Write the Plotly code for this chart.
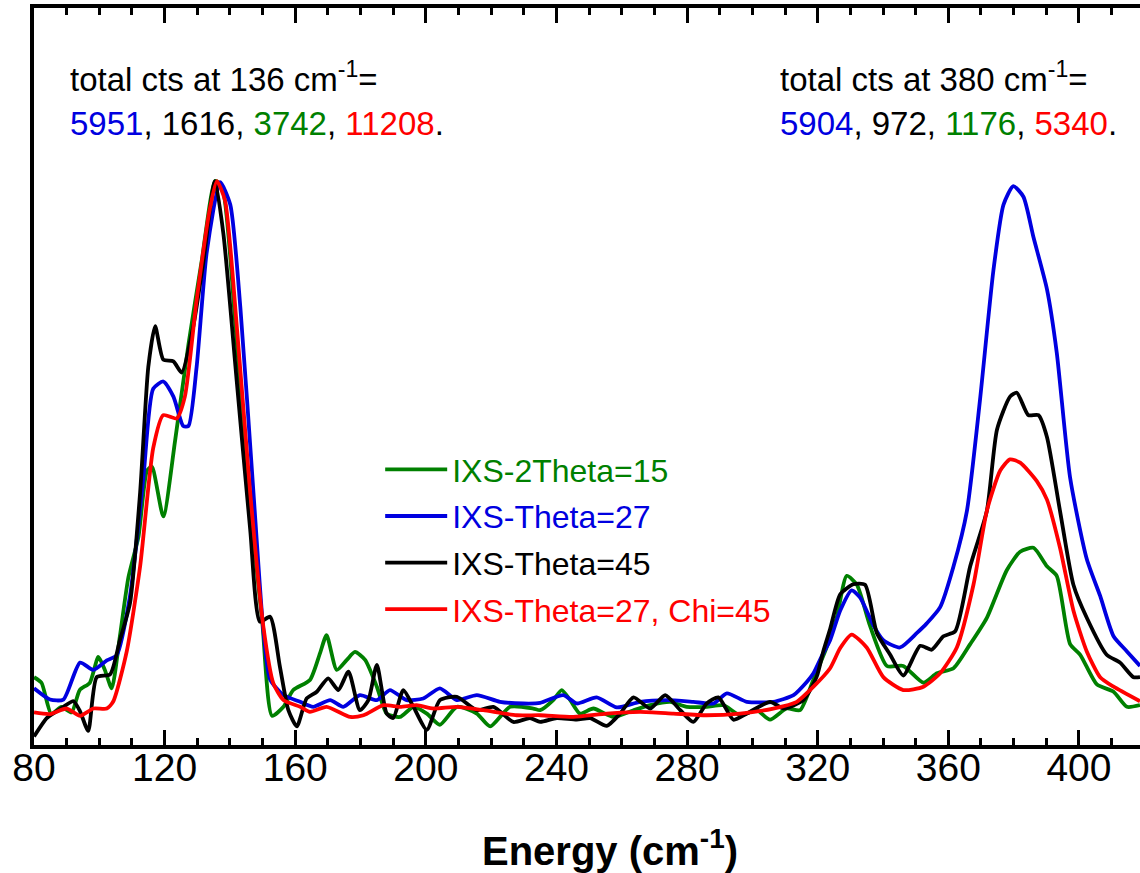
import plotly.graph_objects as go

# ---- data (intensities normalised to the 136 cm-1 peak) ----
names = ["IXS-2Theta=15", "IXS-Theta=27", "IXS-Theta=45", "IXS-Theta=27, Chi=45"]
colors = ["#008000", "#0000e0", "#000000", "#ff0000"]

energy_green = [80, 82.3, 85.3, 88.4, 91.5, 94.0, 97.1, 99.7, 101.7, 103.8, 106.3, 108.9, 112.0, 114.6, 116.1,
                119.6, 123.2, 127.3, 131.4, 135.5, 137.6, 141.7, 145.8, 149.9, 152.9, 156.4, 159.4, 164.5,
                167.6, 169.6, 172.7, 175.8, 178.3, 181.4, 185, 188, 192.1, 196.2, 200.3, 204.3, 209.5, 215.6,
                219.7, 225.8, 232.9, 235, 239, 241.6, 244.2, 247.2, 251.3, 257.4, 263.6, 268.7, 274.8, 279.9,
                286, 291.1, 296.2, 301.3, 305.4, 310.5, 314.6, 318.7, 322.8, 325.8, 328.9, 332, 336, 341.2,
                346.2, 352.4, 356.5, 361.6, 366.7, 371.8, 377.9, 382, 386.1, 390.2, 393.2, 397.3, 400.4,
                405.5, 410.6, 414.7, 418.7]
intensity_green = [0.114, 0.104, 0.048, 0.061, 0.051, 0.091, 0.104, 0.150, 0.127, 0.094, 0.187, 0.292, 0.365, 0.483, 0.490,
                   0.401, 0.536, 0.708, 0.859, 1.0, 0.99, 0.741, 0.444, 0.213, 0.045, 0.061, 0.091, 0.109,
                   0.157, 0.189, 0.127, 0.145, 0.159, 0.145, 0.097, 0.049, 0.043, 0.061, 0.049, 0.029, 0.061, 0.049,
                   0.026, 0.061, 0.058, 0.055, 0.073, 0.091, 0.073, 0.049, 0.058, 0.043, 0.055, 0.064, 0.070, 0.061,
                   0.061, 0.064, 0.046, 0.055, 0.038, 0.058, 0.055, 0.110, 0.168, 0.220, 0.295, 0.279, 0.206, 0.134,
                   0.134, 0.104, 0.121, 0.130, 0.173, 0.220, 0.305, 0.338, 0.345, 0.312, 0.295, 0.173, 0.154,
                   0.101, 0.088, 0.061, 0.064]

energy_blue = [80, 84.9, 89, 94.1, 98.2, 102.3, 105.3, 109.4, 113.5, 116.5, 119.6, 122.7, 125.7, 127.3, 129.8,
               132.9, 137, 140.1, 143.2, 147.2, 150.2, 152.3, 156.4, 161.5, 165.5, 170.7, 174.7, 179.8, 185,
               189, 194.1, 199.2, 204.3, 209.5, 215.6, 222.7, 229.9, 235, 242.1, 246.2, 252.3, 258.5, 265.6,
               273.8, 281.9, 288.1, 292.2, 298.3, 306.4, 312.6, 316.7, 318.7, 321.7, 323.8, 326.9, 330.4, 333,
               337.1, 340.1, 345.2, 350.4, 353.4, 357.5, 361.6, 365.7, 369.7, 373.8, 376.9, 379.9, 383, 386.1,
               390.2, 393.2, 397.3, 402.4, 406.5, 410.6, 414.7, 418.7]
intensity_blue = [0.094, 0.074, 0.074, 0.140, 0.127, 0.144, 0.153, 0.259, 0.470, 0.629, 0.642, 0.615, 0.5625, 0.5625, 0.668,
                  0.873, 0.998, 0.958, 0.774, 0.444, 0.200, 0.110, 0.082, 0.070, 0.061, 0.073, 0.061, 0.082, 0.073,
                  0.091, 0.073, 0.076, 0.094, 0.073, 0.082, 0.070, 0.067, 0.068, 0.082, 0.067, 0.078, 0.060, 0.070,
                  0.073, 0.070, 0.067, 0.085, 0.070, 0.070, 0.082, 0.106, 0.121, 0.157, 0.180, 0.233, 0.269, 0.256,
                  0.206, 0.180, 0.167, 0.193, 0.210, 0.239, 0.312, 0.411, 0.609, 0.840, 0.958, 0.991, 0.972, 0.899,
                  0.807, 0.694, 0.470, 0.325, 0.259, 0.187, 0.160, 0.134]

energy_black = [80, 83.9, 86.9, 89, 92.1, 94.1, 96.6, 99.2, 103.3, 106.3, 109.4, 112.5, 115, 117.1, 119.6, 122.7,
                125.2, 128.8, 131.8, 135.4, 138, 142.1, 146.2, 149.2, 152.3, 155.3, 157.9, 160.5, 163.5, 166.6,
                170.1, 173.2, 176.3, 179.8, 182.4, 185, 188, 190, 193.1, 196.2, 200.3, 204.3, 209.5, 215.6, 220.7,
                226.8, 231.9, 235, 240.1, 246.2, 250.3, 255.4, 259.5, 263.6, 268.7, 273.3, 277.9, 281.9, 286,
                289.6, 294.2, 298.3, 305.4, 309.5, 315.6, 319.7, 321.7, 323.8, 326.9, 330.9, 334.5, 338.1, 342.2,
                346.2, 351.4, 354.9, 358.5, 362.1, 366.7, 371.8, 374.9, 378.9, 381, 384.5, 387.6, 390.2, 394.2,
                398.3, 402.4, 408.5, 412.6, 416.7, 418.7]
intensity_black = [0.008, 0.041, 0.053, 0.061, 0.071, 0.053, 0.018, 0.114, 0.119, 0.180, 0.246, 0.444, 0.668, 0.741, 0.681, 0.678,
                   0.658, 0.741, 0.853, 1.0, 0.906, 0.642, 0.378, 0.213, 0.222, 0.133, 0.055, 0.026, 0.076, 0.088,
                   0.112, 0.091, 0.124, 0.055, 0.073, 0.136, 0.049, 0.041, 0.091, 0.061, 0.020, 0.073, 0.079, 0.055, 0.061,
                   0.034, 0.041, 0.034, 0.041, 0.038, 0.041, 0.027, 0.049, 0.078, 0.058, 0.082, 0.055, 0.034, 0.067,
                   0.078, 0.038, 0.049, 0.070, 0.058, 0.073, 0.115, 0.160, 0.200, 0.262, 0.280, 0.279, 0.193, 0.154,
                   0.117, 0.170, 0.163, 0.187, 0.196, 0.312, 0.411, 0.556, 0.615, 0.622, 0.582, 0.582, 0.543, 0.411,
                   0.279, 0.220, 0.154, 0.140, 0.114, 0.114]

energy_red = [80, 84.9, 90, 94.1, 98.2, 102.3, 104.3, 108.4, 112.5, 116.5, 119.6, 123.7, 126.2, 129.8, 133.9, 136,
              138.5, 142.1, 146.2, 150.2, 153.3, 156.4, 161.5, 164.5, 169.6, 176.8, 180.9, 187, 192.1, 197.2,
              202.3, 209.5, 217.6, 227.8, 235, 245.2, 255.4, 265.6, 275.8, 286, 296.2, 306.4, 313.6, 318.7,
              323.8, 326.9, 330.4, 335, 340.1, 346.2, 352.4, 357.5, 362.6, 367.7, 371.8, 375.9, 378.9, 382,
              387.1, 390.2, 394.2, 398.3, 402.4, 406.5, 410.6, 418.7]
intensity_red = [0.051, 0.048, 0.058, 0.045, 0.058, 0.058, 0.071, 0.160, 0.312, 0.523, 0.582, 0.576, 0.615, 0.787, 0.952, 1.0,
                 0.965, 0.741, 0.444, 0.206, 0.103, 0.073, 0.061, 0.052, 0.061, 0.043, 0.046, 0.064, 0.061, 0.064,
                 0.058, 0.061, 0.055, 0.046, 0.046, 0.043, 0.049, 0.052, 0.049, 0.046, 0.049, 0.058, 0.070, 0.097,
                 0.130, 0.166, 0.190, 0.167, 0.114, 0.091, 0.097, 0.121, 0.167, 0.279, 0.411, 0.483, 0.503, 0.497,
                 0.464, 0.431, 0.345, 0.233, 0.160, 0.114, 0.097, 0.071]

counts_136 = [5951, 1616, 3742, 11208]   # blue, black, green, red
counts_380 = [5904, 972, 1176, 5340]
count_colors = ["#0000e0", "#000000", "#008000", "#ff0000"]

x_ticks = [80, 120, 160, 200, 240, 280, 320, 360, 400]
x_range = [80, 418.7]
y_range = [-0.00714, 1.309]

# ---- figure ----
SANS = "Liberation Sans, Arial, sans-serif"

series = [(energy_green, intensity_green), (energy_blue, intensity_blue),
          (energy_black, intensity_black), (energy_red, intensity_red)]

fig = go.Figure()
for i, ((xs, ys), name, col) in enumerate(zip(series, names, colors)):
    fig.add_trace(go.Scatter(
        x=xs, y=ys, mode="lines", name=f"<span style='color:{col}'>{name}</span>",
        line=dict(color=col, width=3.8, shape="spline", smoothing=0.6),
        legendgroup=f"g{i}", showlegend=True,
    ))


def count_line(counts):
    parts = [f"<span style='color:{c}'>{v}</span>" for v, c in zip(counts, count_colors)]
    return ", ".join(parts) + "."


ann_font = dict(family=SANS, size=33, color="black")
annotations = [
    dict(text="total cts at 136 cm<sup>-1</sup>=", x=0.031, y=0.907, xref="paper", yref="paper",
         xanchor="left", yanchor="middle", showarrow=False, font=ann_font),
    dict(text=count_line(counts_136), x=0.031, y=0.843, xref="paper", yref="paper",
         xanchor="left", yanchor="middle", showarrow=False, font=ann_font),
    dict(text="total cts at 380 cm<sup>-1</sup>=", x=0.673, y=0.907, xref="paper", yref="paper",
         xanchor="left", yanchor="middle", showarrow=False, font=ann_font),
    dict(text=count_line(counts_380), x=0.673, y=0.843, xref="paper", yref="paper",
         xanchor="left", yanchor="middle", showarrow=False, font=ann_font),
    # x-axis title (placed where the reference shows it)
    dict(text="<b>Energy (cm<sup>-1</sup>)</b>", x=0.521, y=-0.1398, xref="paper", yref="paper",
         xanchor="center", yanchor="middle", showarrow=False,
         font=dict(family=SANS, size=40, color="black")),
]

fig.update_layout(
    width=1140, height=873,
    margin=dict(l=34, r=0, t=8, b=128),
    paper_bgcolor="white", plot_bgcolor="white",
    showlegend=True,
    legend=dict(x=0.313, y=0.411, xanchor="left", yanchor="top", bgcolor="rgba(0,0,0,0)",
                font=dict(family=SANS, size=32), tracegroupgap=2, itemwidth=62),
    annotations=annotations,
    xaxis=dict(
        range=x_range, tickvals=x_ticks, ticks="inside", ticklen=15, tickwidth=3, tickcolor="black",
        showline=True, linewidth=3.5, linecolor="black", mirror="ticks", showgrid=False, zeroline=False,
        minor=dict(dtick=10, ticks="inside", ticklen=7, tickwidth=3, tickcolor="black", showgrid=False),
        tickfont=dict(family=SANS, size=39, color="black"), ticklabelstandoff=-15,
    ),
    yaxis=dict(
        range=y_range, showline=True, linewidth=3.5, linecolor="black", mirror=False,
        showticklabels=False, ticks="", showgrid=False, zeroline=False,
    ),
)

fig.write_html("out.html", config={"displayModeBar": False},
               post_script="document.body.style.margin='0px';")
